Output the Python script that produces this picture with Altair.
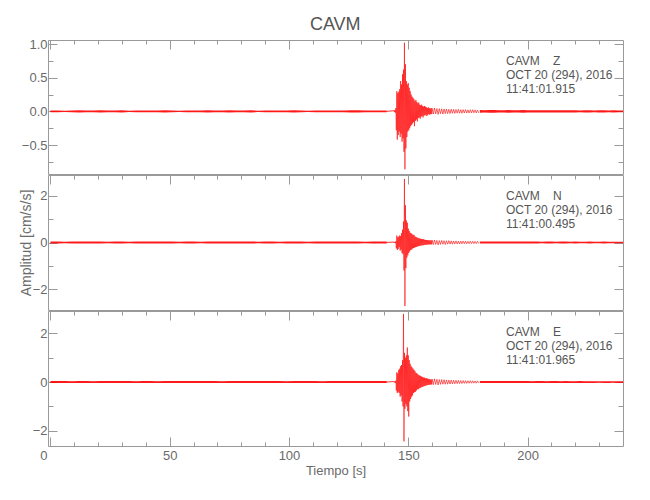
import numpy as np
import pandas as pd
import altair as alt

FONT = "Liberation Sans, Arial, sans-serif"
RED = "#ff0000"
AXC = "#9a9a9a"
LBL = "#6a6a6a"
TXT = "#555555"

STATION = "CAVM"
COMPONENTS = ["Z", "N", "E"]
DATE_LABEL = "OCT 20 (294), 2016"
START_TIMES = ["11:41:01.915", "11:41:00.495", "11:41:01.965"]
X_DOMAIN = [-1, 240]
X_TICKS = list(range(0, 240, 10))

Y_DOMAINS = [[-0.93, 1.06], [-2.9, 2.9], [-2.63, 2.92]]
Y_TICKS = [[-0.75, -0.5, -0.25, 0.0, 0.25, 0.5, 0.75, 1.0],
           [-2, -1, 0, 1, 2],
           [-2, -1, 0, 1, 2]]

# sampling grids (s)
T_PRE = np.arange(0, 142, 3.0)            # 48 samples, noise band
T_EVENT = 144.0 + 0.2 * np.arange(80)     # 80 samples, trace peaks
T_CODA = 160.0 + 0.5 * np.arange(40)      # 40 samples, trace peaks
T_TAIL = 180.0 + 2.0 * np.arange(31)      # 31 samples, noise band

# ---- Z component (cm/s/s) ----
Z_PRE_AMP = [0.012, 0.014, 0.011, 0.013, 0.015, 0.012, 0.013, 0.016, 0.012, 0.013,
             0.015, 0.011, 0.013, 0.014, 0.012, 0.013, 0.016, 0.013, 0.011, 0.014,
             0.013, 0.012, 0.015, 0.013, 0.012, 0.015, 0.013, 0.014, 0.015, 0.011,
             0.013, 0.014, 0.012, 0.013, 0.015, 0.014, 0.011, 0.014, 0.013, 0.012,
             0.014, 0.013, 0.015, 0.016, 0.012, 0.014, 0.013, 0.014]
Z_EVENT = [0.01, -0.01, 0.02, -0.02, 0.05, -0.28, 0.30, -0.42, 0.27, -0.35,
           0.29, -0.30, 0.33, -0.38, 0.45, -0.33, 0.40, -0.45, 0.55, -0.40,
           0.62, -0.60, 1.02, -0.86, 0.70, -0.55, 0.45, -0.38, 0.40, -0.30,
           0.42, -0.28, 0.35, -0.25, 0.30, -0.22, 0.25, -0.20, 0.22, -0.18,
           0.20, -0.16, 0.18, -0.22, 0.15, -0.14, 0.17, -0.12, 0.14, -0.15,
           0.12, -0.10, 0.13, -0.09, 0.10, -0.11, 0.09, -0.08, 0.10, -0.07,
           0.08, -0.09, 0.07, -0.06, 0.08, -0.06, 0.07, -0.05, 0.06, -0.07,
           0.05, -0.05, 0.06, -0.04, 0.05, -0.05, 0.04, -0.04, 0.05, -0.04]
Z_CODA = [0.045, -0.04, 0.05, -0.038, 0.042, -0.045, 0.04, -0.035, 0.038, -0.04,
          0.036, -0.032, 0.035, -0.034, 0.03, -0.033, 0.032, -0.028, 0.03, -0.031,
          0.028, -0.026, 0.03, -0.027, 0.025, -0.028, 0.026, -0.024, 0.027, -0.025,
          0.023, -0.025, 0.024, -0.022, 0.025, -0.021, 0.022, -0.023, 0.02, -0.022]
Z_TAIL_AMP = [0.02, 0.018, 0.019, 0.02, 0.017, 0.018, 0.02, 0.016, 0.018, 0.019,
              0.016, 0.017, 0.018, 0.015, 0.017, 0.018, 0.015, 0.016, 0.017, 0.015,
              0.016, 0.014, 0.015, 0.016, 0.014, 0.015, 0.016, 0.013, 0.015, 0.014, 0.014]

# ---- N component ----
N_PRE_AMP = [0.04, 0.045, 0.035, 0.04, 0.045, 0.038, 0.042, 0.046, 0.037, 0.04,
             0.046, 0.035, 0.04, 0.044, 0.038, 0.042, 0.048, 0.04, 0.035, 0.044,
             0.042, 0.037, 0.044, 0.04, 0.038, 0.046, 0.04, 0.042, 0.044, 0.036,
             0.04, 0.044, 0.037, 0.04, 0.046, 0.042, 0.035, 0.044, 0.04, 0.038,
             0.042, 0.04, 0.044, 0.046, 0.037, 0.042, 0.04, 0.044]
N_EVENT = [0.02, -0.02, 0.03, -0.03, 0.05, -0.25, 0.30, -0.32, 0.22, -0.28,
           0.25, -0.20, 0.30, -0.35, 0.28, -0.30, 0.40, -0.45, 0.55, -0.50,
           0.90, -1.20, 2.73, -2.73, 1.60, -1.10, 0.95, -0.65, 0.85, -0.55,
           0.60, -0.45, 0.50, -0.38, 0.42, -0.32, 0.40, -0.30, 0.36, -0.26,
           0.32, -0.24, 0.33, -0.22, 0.26, -0.20, 0.24, -0.19, 0.22, -0.17,
           0.20, -0.16, 0.18, -0.15, 0.17, -0.14, 0.16, -0.13, 0.15, -0.12,
           0.14, -0.12, 0.14, -0.11, 0.12, -0.10, 0.11, -0.10, 0.11, -0.09,
           0.10, -0.09, 0.10, -0.08, 0.09, -0.08, 0.09, -0.08, 0.09, -0.08]
N_CODA = [0.10, -0.09, 0.11, -0.085, 0.09, -0.10, 0.085, -0.08, 0.09, -0.075,
          0.08, -0.085, 0.075, -0.07, 0.08, -0.068, 0.07, -0.072, 0.065, -0.06,
          0.068, -0.062, 0.06, -0.065, 0.058, -0.055, 0.06, -0.052, 0.055, -0.056,
          0.05, -0.052, 0.054, -0.048, 0.05, -0.05, 0.046, -0.048, 0.05, -0.045]
N_TAIL_AMP = [0.045, 0.04, 0.042, 0.045, 0.04, 0.042, 0.044, 0.038, 0.04, 0.043,
              0.038, 0.04, 0.042, 0.037, 0.04, 0.041, 0.036, 0.039, 0.04, 0.036,
              0.038, 0.035, 0.037, 0.038, 0.035, 0.036, 0.038, 0.034, 0.036, 0.035, 0.035]

# ---- E component ----
E_PRE_AMP = [0.038, 0.042, 0.044, 0.037, 0.04, 0.045, 0.036, 0.041, 0.043, 0.039,
             0.045, 0.04, 0.037, 0.043, 0.041, 0.036, 0.044, 0.042, 0.039, 0.045,
             0.04, 0.038, 0.043, 0.041, 0.036, 0.044, 0.042, 0.039, 0.045, 0.04,
             0.038, 0.043, 0.041, 0.037, 0.044, 0.04, 0.039, 0.042, 0.037, 0.045,
             0.043, 0.039, 0.04, 0.041, 0.044, 0.038, 0.042, 0.04]
E_EVENT = [0.02, -0.02, 0.03, -0.04, 0.06, -0.35, 0.40, -0.45, 0.35, -0.40,
           0.50, -0.45, 0.55, -0.60, 0.65, -0.55, 0.70, -0.80, 0.90, -1.00,
           2.80, -2.44, 1.20, -1.10, 1.00, -0.90, 1.10, -1.00, 1.42, -1.20,
           1.10, -1.42, 0.90, -0.80, 0.75, -0.70, 0.65, -0.60, 0.60, -0.55,
           0.55, -0.45, 0.50, -0.42, 0.45, -0.40, 0.38, -0.35, 0.36, -0.30,
           0.32, -0.30, 0.28, -0.26, 0.27, -0.24, 0.25, -0.22, 0.22, -0.20,
           0.21, -0.19, 0.18, -0.17, 0.18, -0.16, 0.15, -0.15, 0.16, -0.13,
           0.14, -0.12, 0.13, -0.12, 0.12, -0.11, 0.11, -0.10, 0.10, -0.10]
E_CODA = [0.12, -0.11, 0.13, -0.10, 0.11, -0.12, 0.10, -0.095, 0.105, -0.09,
          0.095, -0.09, 0.085, -0.088, 0.08, -0.082, 0.078, -0.075, 0.072, -0.074,
          0.07, -0.066, 0.068, -0.064, 0.06, -0.062, 0.058, -0.056, 0.055, -0.057,
          0.052, -0.05, 0.054, -0.048, 0.05, -0.047, 0.045, -0.048, 0.046, -0.044]
E_TAIL_AMP = [0.042, 0.045, 0.04, 0.042, 0.044, 0.039, 0.041, 0.043, 0.038, 0.04,
              0.042, 0.037, 0.039, 0.041, 0.036, 0.04, 0.038, 0.036, 0.04, 0.037,
              0.035, 0.038, 0.037, 0.035, 0.036, 0.034, 0.035, 0.037, 0.034, 0.035, 0.035]

PRE_AMPS = [Z_PRE_AMP, N_PRE_AMP, E_PRE_AMP]
EVENTS = [Z_EVENT, N_EVENT, E_EVENT]
CODAS = [Z_CODA, N_CODA, E_CODA]
TAIL_AMPS = [Z_TAIL_AMP, N_TAIL_AMP, E_TAIL_AMP]

HEIGHTS = [134, 135, 135]
WIDTH = 575

X_MAJOR = "datum.value % 50 === 0"
X_TICK_EXPR = {"expr": f"{X_MAJOR} ? -9 : -4"}


def y_major(i):
    if i == 0:
        return "abs(datum.value * 2 - round(datum.value * 2)) < 1e-6"
    return "abs(datum.value % 2) < 1e-6"


def panel(i):
    trace = pd.DataFrame({
        "t": np.concatenate([T_EVENT, T_CODA]),
        "v": np.concatenate([np.asarray(EVENTS[i], float), np.asarray(CODAS[i], float)]),
    })
    pre_amp = np.asarray(PRE_AMPS[i], float)
    tail_amp = np.asarray(TAIL_AMPS[i], float)
    band = pd.DataFrame({
        "t": np.concatenate([T_PRE, T_TAIL]),
        "hi": np.concatenate([pre_amp, tail_amp]),
        "lo": -np.concatenate([pre_amp, tail_amp]),
        "seg": ["pre"] * len(T_PRE) + ["tail"] * len(T_TAIL),
    })
    # join the noise band with the trace between 141 s and 144 s
    bridge = pd.DataFrame({"t": [T_PRE[-1], T_EVENT[0]], "v": [0.0, EVENTS[i][0]]})

    xs = alt.Scale(domain=X_DOMAIN, nice=False, zero=False)
    ys = alt.Scale(domain=Y_DOMAINS[i], nice=False, zero=False)
    ymaj = y_major(i)
    fmt = ".1f" if i == 0 else "d"
    y_tick_expr = {"expr": f"{ymaj} ? -9 : -5"}

    top_axis = alt.Axis(orient="top", values=X_TICKS, labels=False, title=None,
                        domain=False, grid=False, tickColor=AXC, tickSize=X_TICK_EXPR)
    bottom_axis = alt.Axis(orient="bottom", values=X_TICKS, domain=False, grid=False,
                           tickColor=AXC, tickSize=X_TICK_EXPR,
                           labelExpr=f"{X_MAJOR} ? datum.label : ''",
                           labelPadding=12, labelFlush=False, labelOverlap=False,
                           labelOffset={"expr": "datum.value === 0 ? -7 : 0"},
                           title="Tiempo [s]", titleY=28, titleBaseline="alphabetic",
                           titleFontSize=13)
    left_axis = alt.Axis(orient="left", values=Y_TICKS[i], domain=False, grid=False,
                         tickColor=AXC, tickSize=y_tick_expr,
                         labelExpr=f"{ymaj} ? format(datum.value, '{fmt}') : ''",
                         labelPadding=10, labelFlush=False, labelOverlap=False,
                         title=("Amplitud [cm/s/s]" if i == 1 else None),
                         titleX=-18, titleBaseline="alphabetic", titleFontSize=14)
    right_axis = alt.Axis(orient="right", values=Y_TICKS[i], domain=False, grid=False,
                          labels=False, title=None, tickColor=AXC, tickSize=y_tick_expr)

    last = i == 2
    line = alt.Chart(trace).mark_line(color=RED, strokeWidth=0.6, clip=True).encode(
        x=alt.X("t:Q", scale=xs, axis=bottom_axis if last else top_axis),
        y=alt.Y("v:Q", scale=ys, axis=left_axis),
    )
    ghost = alt.Chart(trace).mark_line(strokeOpacity=0).encode(
        x=alt.X("t:Q", scale=xs, axis=top_axis if last else None),
        y=alt.Y("v:Q", scale=ys, axis=right_axis),
    )
    noise = alt.Chart(band).mark_area(color=RED, opacity=0.9, clip=True).encode(
        x=alt.X("t:Q", scale=xs, axis=None),
        y=alt.Y("lo:Q", scale=ys, axis=None),
        y2="hi:Q",
        detail="seg:N",
    )
    joint = alt.Chart(bridge).mark_line(color=RED, strokeWidth=0.8, clip=True).encode(
        x=alt.X("t:Q", scale=xs, axis=None), y=alt.Y("v:Q", scale=ys, axis=None),
    )
    label_df = pd.DataFrame({"lines": [[STATION + "\u00a0\u00a0\u00a0\u00a0" + COMPONENTS[i],
                                        DATE_LABEL, START_TIMES[i]]]})
    note = alt.Chart(label_df).mark_text(
        align="left", baseline="alphabetic", font=FONT, fontSize=12,
        color=TXT, lineHeight=14,
    ).encode(x=alt.value(458), y=alt.value(25), text="lines:N")

    return alt.layer(line, ghost, noise, joint, note).resolve_axis(
        x="independent", y="independent"
    ).properties(width=WIDTH, height=HEIGHTS[i])


chart = alt.vconcat(panel(0), panel(1), panel(2), spacing=-1).properties(
    title=alt.TitleParams(STATION, font=FONT, fontSize=18, fontWeight="normal",
                          color=TXT, anchor="middle", offset=4, dx=14),
    padding={"left": 10, "top": 7, "right": 5, "bottom": 5},
).configure_view(stroke=AXC, strokeWidth=1).configure_axis(
    labelFont=FONT, labelFontSize=13, labelColor=LBL,
    titleFont=FONT, titleColor=LBL, titleFontWeight="normal",
)

chart.save("out.html", embed_options={"renderer": "svg", "actions": False})
